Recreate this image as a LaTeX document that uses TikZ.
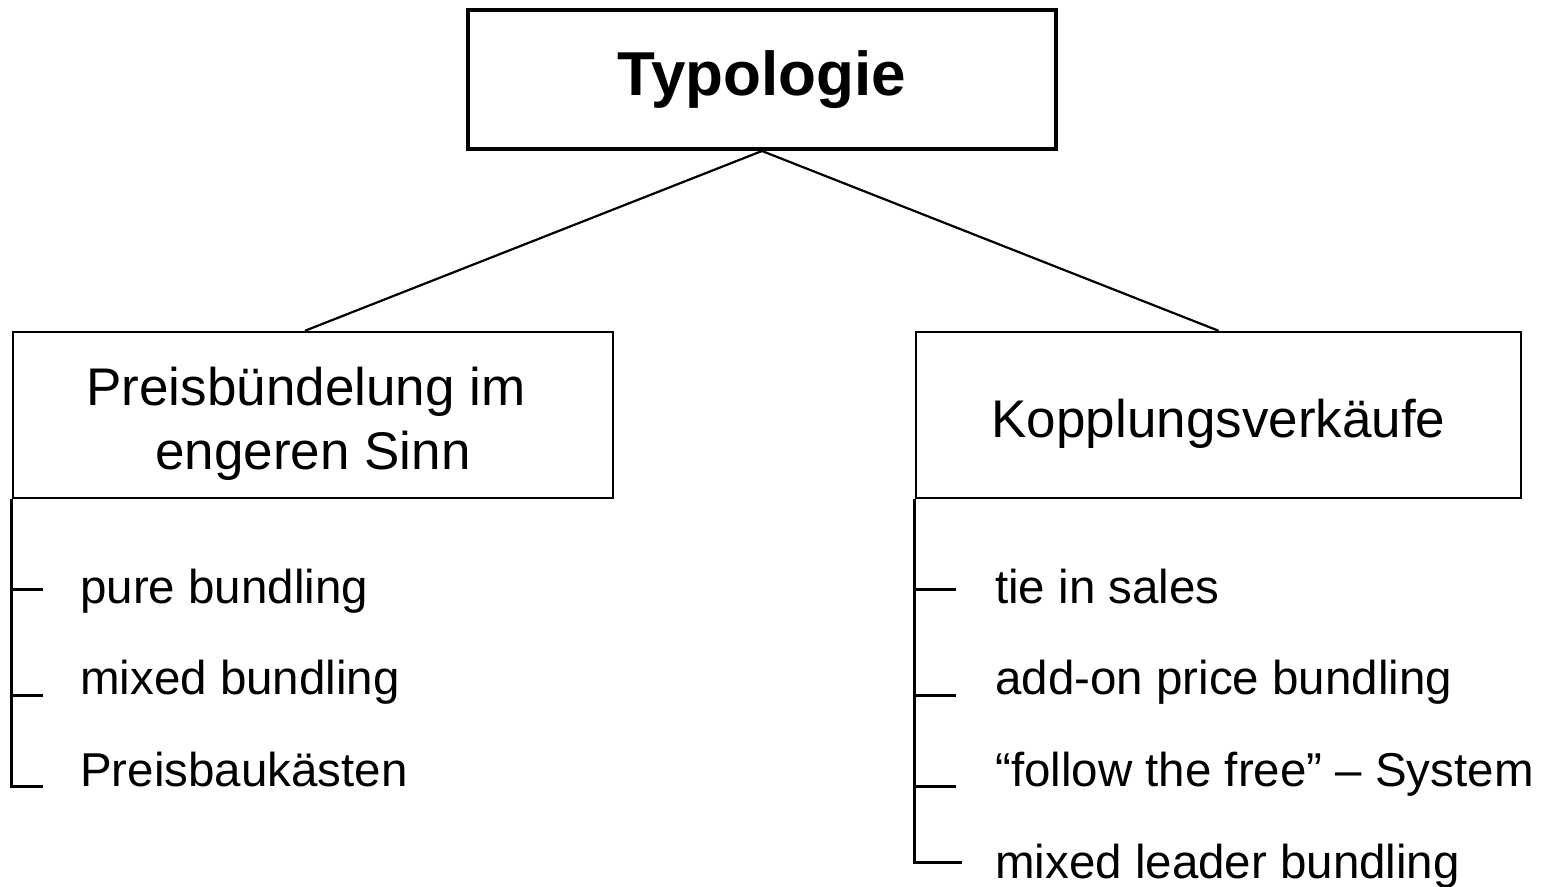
\documentclass[tikz,border=0pt]{standalone}
\usepackage{fontspec}
\setmainfont{Liberation Sans}
\begin{document}
\begin{tikzpicture}[x=1pt,y=-1pt,
  topbox/.style={draw,line width=4pt,minimum width=588pt,minimum height=139pt,inner sep=0pt,
    font=\fontsize{62}{74}\selectfont\bfseries},
  catbox/.style={draw,line width=2.5pt,minimum height=166pt,inner sep=0pt},
  cattext/.style={inner sep=0pt,align=center,font=\fontsize{53}{64}\selectfont},
  item/.style={anchor=base west,inner sep=0pt,font=\fontsize{47.5}{56}\selectfont},
  branch/.style={line width=2.2pt},
  tree/.style={line width=3pt}]
  \useasboundingbox (0,0) rectangle (1549,886);

  % heading box and the two categories
  \node[topbox] (top) at (762,79.5) {Typologie};
  \node[catbox,minimum width=600pt] (left) at (313,415) {};
  \node[catbox,minimum width=605pt] (right) at (1218.5,415) {};
  \node[cattext] (lefttext) at (left.center) [yshift=-9pt] {Preisbündelung im\hspace*{14pt}\\engeren Sinn};
  \node[cattext] (righttext) at (right.center) [yshift=-9pt] {Kopplungsverkäufe};

  \draw[branch] (top.south) -- ([xshift=-8pt]left.north);
  \draw[branch] (top.south) -- (right.north);

  % left list
  \node[item] (l1) at (80,603) {pure bundling};
  \node[item] (l2) at (80,694) {mixed bundling};
  \node[item] (l3) at (80,786) {Preisbaukästen};
  \coordinate (lt1) at (43,589);
  \coordinate (lt2) at (43,695);
  \coordinate (lt3) at (43,786);
  \draw[tree] (left.south west) |- (lt3);
  \draw[tree] (left.south west |- lt1) -- (lt1);
  \draw[tree] (left.south west |- lt2) -- (lt2);

  % right list
  \node[item] (r1) at (995,603) {tie in sales};
  \node[item] (r2) at (995,694) {add-on price bundling};
  \node[item] (r3) at (995,786) {“follow the free” – System};
  \node[item] (r4) at (995,878) {mixed leader bundling};
  \coordinate (rt1) at (956,589);
  \coordinate (rt2) at (956,695);
  \coordinate (rt3) at (956,786);
  \coordinate (rt4) at (962,862);
  \draw[tree] (right.south west) |- (rt4);
  \draw[tree] (right.south west |- rt1) -- (rt1);
  \draw[tree] (right.south west |- rt2) -- (rt2);
  \draw[tree] (right.south west |- rt3) -- (rt3);
\end{tikzpicture}
\end{document}
